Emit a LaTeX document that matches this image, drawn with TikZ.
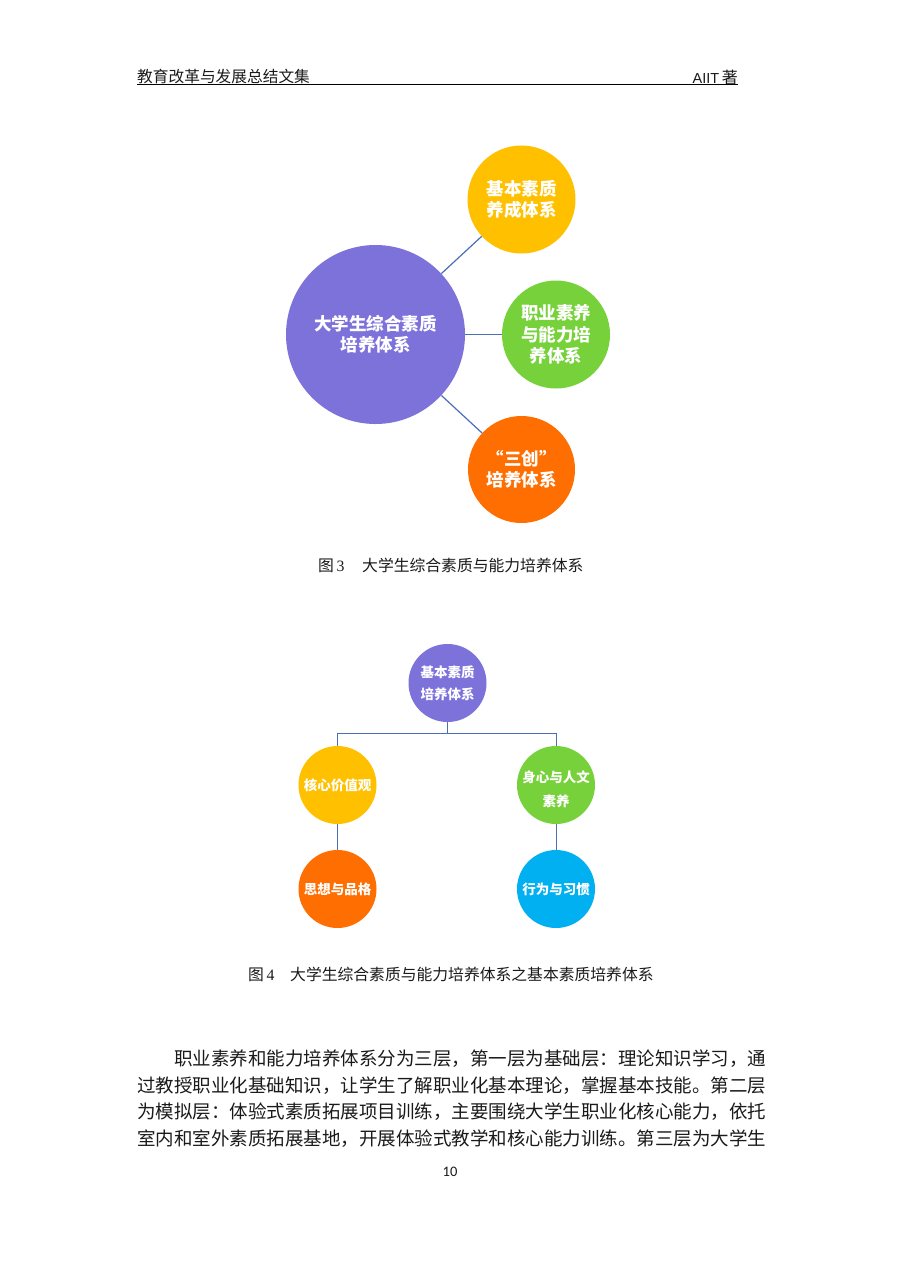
\documentclass[tikz,border=0pt]{standalone}
\usepackage{fontspec}
\setmainfont{Liberation Serif}
\newfontfamily\cjk{Noto Sans CJK SC}
\newfontfamily\arialf{Liberation Sans}
\newfontfamily\calf{Carlito}
\newcommand\fsz[2]{\fontsize{#1}{#2}\selectfont}
\definecolor{cpurple}{HTML}{7C72DA}
\definecolor{cyellow}{HTML}{FFC000}
\definecolor{cgreen}{HTML}{76D13A}
\definecolor{corange}{HTML}{FF6E00}
\definecolor{cblue}{HTML}{00B0F0}
\definecolor{linec}{HTML}{4A6FB5}
\definecolor{txtc}{HTML}{1A1A1A}
\begin{document}
\begin{tikzpicture}[x=1pt,y=-1pt,
  bub/.style={circle,inner sep=0pt,text=white,align=center,font=\cjk\bfseries\fsz{17.5}{21.5}},
  sbub/.style={circle,inner sep=0pt,text=white,align=center,minimum size=78pt,font=\cjk\bfseries\fsz{13.5}{22}},
  stxt/.style={inner sep=0pt,text=white,align=center,font=\cjk\bfseries\fsz{13.5}{24}},
  link/.style={draw=linec,line width=1.2pt},
  slink/.style={draw=linec,line width=1pt},
  captxt/.style={inner sep=0pt,anchor=west,text=txtc,font=\cjk\fsz{15.8}{18}},
  bodytxt/.style={inner sep=0pt,anchor=west,text=txtc,font=\cjk\fsz{18.5}{22}},
]
\useasboundingbox (0,0) rectangle (900,1272);
\fill[white] (0,0) rectangle (900,1272);

% header
\node[inner sep=0pt,anchor=west,text=txtc,font=\cjk\fsz{15.7}{18}] (hdl) at (137,77) {教育改革与发展总结文集};
\node[inner sep=0pt,anchor=east,text=txtc] (hdr) at (738,77) {{\arialf\fsz{14.5}{18}AIIT} {\cjk\fsz{16}{18}著}};
\coordinate (ul1) at (137,84.5);
\coordinate (ul2) at (738,84.5);
\draw[line width=0.9pt,black] (ul1) -- (ul2);

% figure 3
\node[bub,fill=cpurple,minimum size=179pt] (big) at (375.5,334.5) {大学生综合素质\\培养体系};
\node[bub,fill=cyellow,minimum size=108pt] (y1) at (521.5,199.5) {基本素质\\养成体系};
\node[bub,fill=cgreen,minimum size=108pt] (g1) at (556,334.5) {职业素养\\与能力培\\养体系};
\node[bub,fill=corange,minimum size=107pt] (o1) at (521.5,469.5) {“三创”\\培养体系};
\draw[link] (big) -- (y1);
\draw[link] (big) -- (g1);
\draw[link] (big) -- (o1);
\node[captxt] (cap3) at (318,565) {\makebox[44pt][l]{图\,{\rmfamily 3}}大学生综合素质与能力培养体系};

% figure 4
\node[sbub,fill=cpurple] (t) at (447.5,683) {基本素质\\培养体系};
\node[sbub,fill=cyellow] (a) at (337.5,785) {核心价值观};
\node[sbub,fill=cgreen] (b) at (556,785) {};
\node[stxt] (bt) at (556,789) {身心与人文\\素养};
\node[sbub,fill=corange] (c) at (337.5,889) {思想与品格};
\node[sbub,fill=cblue] (d) at (556,889) {行为与习惯};
\coordinate (bus) at (447.5,733.5);
\draw[slink] (t.south) -- (bus);
\draw[slink] (a.north) |- (bus) -| (b.north);
\draw[slink] (a) -- (c);
\draw[slink] (b) -- (d);
\node[captxt] (cap4) at (248,974) {\makebox[42pt][l]{图\,{\rmfamily 4}}大学生综合素质与能力培养体系之基本素质培养体系};

% body text
\node[bodytxt] (l1) at (174,1059) {职业素养和能力培养体系分为三层，第一层为基础层：理论知识学习，通};
\node[bodytxt] (l2) at (137,1085.5) {过教授职业化基础知识，让学生了解职业化基本理论，掌握基本技能。第二层};
\node[bodytxt] (l3) at (137,1112) {为模拟层：体验式素质拓展项目训练，主要围绕大学生职业化核心能力，依托};
\node[bodytxt] (l4) at (137,1138.5) {室内和室外素质拓展基地，开展体验式教学和核心能力训练。第三层为大学生};
\node[inner sep=0pt,text=txtc,font=\calf\fsz{14.5}{16}] (pg) at (450,1172) {10};
\end{tikzpicture}
\end{document}
